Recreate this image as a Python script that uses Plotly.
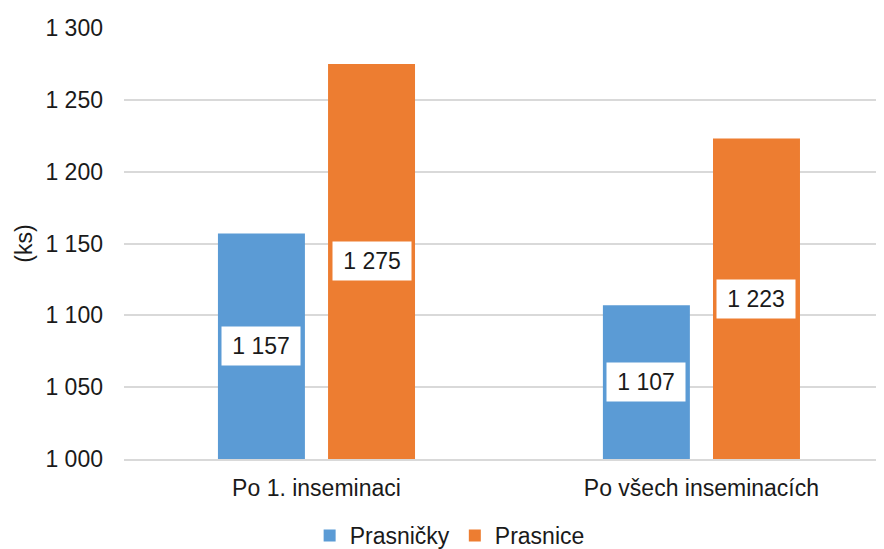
import plotly.graph_objects as go

categories = ["Po 1. inseminaci", "Po všech inseminacích"]
prasnicky = [1157, 1107]
prasnice = [1275, 1223]
series_names = ["Prasničky", "Prasnice"]
colors = ["#5B9BD5", "#ED7D31"]
y_min, y_max = 1000, 1300

fig = go.Figure()
for name, vals, col in zip(series_names, [prasnicky, prasnice], colors):
    fig.add_trace(go.Bar(x=categories, y=[v - y_min for v in vals], base=y_min,
                         name=name, marker_color=col, marker_line_width=0))

slot = 0.286
def fmt(v):
    return f"{v:,}".replace(",", " ")

for si, vals in enumerate([prasnicky, prasnice]):
    off = (si - 0.5) * slot
    for ci, v in enumerate(vals):
        fig.add_annotation(x=ci + off, y=(y_min + v) / 2, xref="x", yref="y",
                           text=fmt(v), showarrow=False, bgcolor="white",
                           width=76, height=36,
                           font=dict(family="Liberation Sans, Arial", size=23, color="#1a1a1a"))

fig.update_layout(
    width=884, height=549,
    margin=dict(l=116, r=0, t=20, b=97),
    paper_bgcolor="white", plot_bgcolor="white",
    barmode="group", bargap=0.428, bargroupgap=0.21,
    separators=", ",
    font=dict(family="Liberation Sans, Arial", color="#1a1a1a", size=23),
    showlegend=True,
    legend=dict(orientation="h", x=0.424, xanchor="center", y=-0.178, yanchor="middle",
                font=dict(size=23, color="#1a1a1a"), itemwidth=30),
    xaxis=dict(type="category", range=[-0.5, 1.495], showgrid=False,
               showline=True, linecolor="#d9d9d9", linewidth=1.5,
               tickfont=dict(size=23, color="#1a1a1a"), ticks="",
               ticklabelstandoff=8),
    yaxis=dict(range=[y_min, y_max], dtick=50, tickformat=",d",
               showgrid=True, gridcolor="#d9d9d9", gridwidth=1.5,
               zeroline=False, showline=False, ticks="",
               tickfont=dict(size=23, color="#1a1a1a"),
               ticklabelstandoff=20,
               title=dict(text="(ks)", font=dict(size=23, color="#1a1a1a"), standoff=6)),
)

fig.write_html("out.html")
